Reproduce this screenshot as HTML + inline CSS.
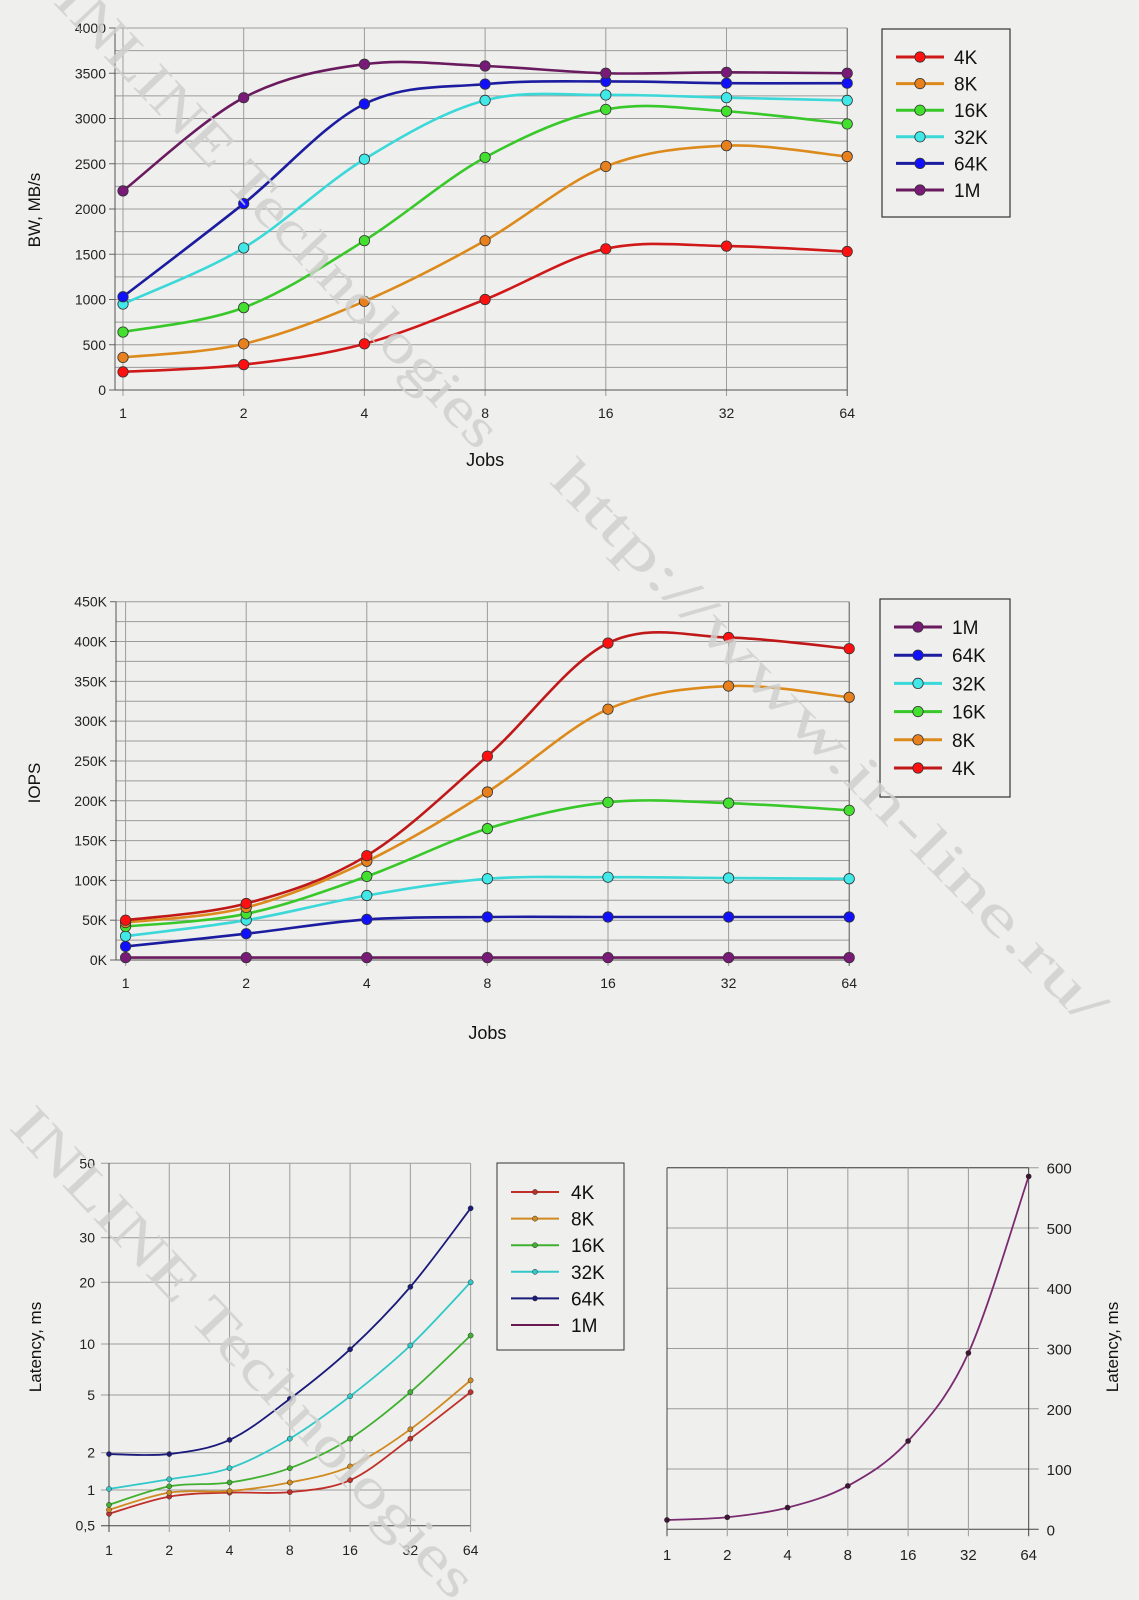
<!DOCTYPE html>
<html><head><meta charset="utf-8"><style>
html,body{margin:0;padding:0;background:#efefed;}
svg{display:block;font-family:"Liberation Sans",Arial,sans-serif;}
</style></head><body>
<svg id="s" width="1139" height="1600" viewBox="0 0 1139 1600">
<rect x="0" y="0" width="1139" height="1600" fill="#efefed"/>
<g id="wm" fill="#cfcfcd" font-family="Liberation Serif, serif" font-size="56" opacity="0.85">
<text transform="translate(52,2) rotate(46.6)" textLength="619" lengthAdjust="spacingAndGlyphs">INLINE Technologies</text>
<text transform="translate(548,482) rotate(45.5)" textLength="766" lengthAdjust="spacingAndGlyphs">http://www.in-line.ru/</text>
<text transform="translate(8,1128) rotate(46.8)" textLength="650" lengthAdjust="spacingAndGlyphs">INLINE Technologies</text>
</g>
</svg>
<script>
const jobs = ["1","2","4","8","16","32","64"];
const seriesNames = ["4K","8K","16K","32K","64K","1M"];
// Chart 1: BW MB/s
const bw4K  = [200,280,510,1000,1560,1590,1530];
const bw8K  = [360,510,980,1650,2470,2700,2580];
const bw16K = [640,910,1650,2570,3100,3080,2940];
const bw32K = [950,1570,2550,3200,3260,3230,3200];
const bw64K = [1030,2060,3160,3380,3410,3390,3390];
const bw1M  = [2200,3230,3600,3580,3500,3510,3500];
const bwTicks = [0,500,1000,1500,2000,2500,3000,3500,4000];
// Chart 2: IOPS (K)
const iops4K  = [50,71,131,256,398,405,391];
const iops8K  = [47,66,124,211,315,344,330];
const iops16K = [42,58,105,165,198,197,188];
const iops32K = [30,50,81,102,104,103,102];
const iops64K = [17,33,51,54,54,54,54];
const iops1M  = [3,3,3,3,3,3,3];
const iopsTicks = [0,50,100,150,200,250,300,350,400,450];
// Chart 3 left: latency ms
const lat4K  = [0.63,0.88,0.95,0.96,1.2,2.5,5.2];
const lat8K  = [0.68,0.95,0.98,1.15,1.55,2.9,6.1];
const lat16K = [0.75,1.07,1.15,1.5,2.5,5.2,11];
const lat32K = [1.02,1.22,1.5,2.5,4.9,9.8,20];
const lat64K = [1.95,1.95,2.45,4.7,9.3,19,36.7];
const latTicks = [0.5,1,2,5,10,20,30,50];
const latTickLabels = ["0,5","1","2","5","10","20","30","50"];
// Chart 3 right: 1M latency ms
const lat1M = [15.5,20,36,72,146.5,292.5,585.6];
const lat1MTicks = [0,100,200,300,400,500,600];

const NS="http://www.w3.org/2000/svg";
const svg=document.getElementById('s');
function el(tag,attrs,parent){const e=document.createElementNS(NS,tag);for(const k in attrs)e.setAttribute(k,attrs[k]);(parent||svg).appendChild(e);return e;}
function txt(x,y,s,attrs,parent){const t=el('text',Object.assign({x:x,y:y},attrs),parent);t.textContent=s;return t;}
function smooth(pts){let d='M'+pts[0][0]+','+pts[0][1];for(let i=0;i<pts.length-1;i++){const p0=pts[Math.max(0,i-1)],p1=pts[i],p2=pts[i+1],p3=pts[Math.min(pts.length-1,i+2)];const c1x=p1[0]+(p2[0]-p0[0])/6,c1y=p1[1]+(p2[1]-p0[1])/6,c2x=p2[0]-(p3[0]-p1[0])/6,c2y=p2[1]-(p3[1]-p1[1])/6;d+=' C'+c1x+','+c1y+' '+c2x+','+c2y+' '+p2[0]+','+p2[1];}return d;}
const GRID="#9c9c9c";

function bigChart(cfg){
  const g=el('g',{});
  
  
  const X=i=>cfg.x0+i*cfg.dx;
  const Y=v=>cfg.yb-(v-cfg.vmin)/(cfg.vmax-cfg.vmin)*(cfg.yb-cfg.yt);
  for(let v=cfg.vmin;v<=cfg.vmax;v+=cfg.minor){el('line',{x1:cfg.left,x2:X(6),y1:Y(v),y2:Y(v),stroke:GRID,'stroke-width':1},g);}
  cfg.ticks.forEach(v=>{el('line',{x1:cfg.left-6,x2:cfg.left,y1:Y(v),y2:Y(v),stroke:'#666'},g);
    const t=txt(cfg.left-9,Y(v)+5,cfg.fmt(v),{'text-anchor':'end','font-size':14,fill:'#222'},g);
    });
  jobs.forEach((j,i)=>{el('line',{x1:X(i),x2:X(i),y1:cfg.yt,y2:cfg.yb+6,stroke:i==6?'#555':GRID},g);
    const t=txt(X(i),cfg.yb+28,j,{'text-anchor':'middle','font-size':14,fill:'#222'},g);
    });
  el('line',{x1:cfg.left,x2:cfg.left,y1:cfg.yt,y2:cfg.yb,stroke:'#555'},g);
  el('line',{x1:cfg.left,x2:X(6),y1:cfg.yb,y2:cfg.yb,stroke:'#555'},g);
  const yt=txt(0,0,cfg.ytitle,{'font-size':17,fill:'#111','text-anchor':'middle',transform:'translate('+cfg.ytx+','+cfg.yty+') rotate(-90)'},g);
  
  const xt=txt(X(3),cfg.jy,'Jobs',{'font-size':18,fill:'#111','text-anchor':'middle'},g);
  
  cfg.order.forEach(k=>{const s=cfg.series[k];const pts=s.data.map((v,i)=>[X(i),Y(v)]);
    const p=el('path',{d:smooth(pts),fill:'none',stroke:s.line,'stroke-width':2.6},g);
    
    pts.forEach(pt=>{const c=el('circle',{cx:pt[0],cy:pt[1],r:5.2,fill:s.dot,stroke:'#333','stroke-width':0.8},g);
      });});
  const lg=el('g',{},g);
  el('rect',{x:cfg.lx,y:cfg.ly,width:cfg.lw,height:cfg.lh,fill:'#efefed',stroke:'#333','stroke-width':1.2},lg);
  cfg.legendOrder.forEach((k,i)=>{const s=cfg.series[k];const y=cfg.lrow0+i*cfg.lrowd;
    const e=el('g',{},lg);
    el('line',{x1:cfg.lx+14,x2:cfg.lx+62,y1:y,y2:y,stroke:s.line,'stroke-width':3},e);
    el('circle',{cx:cfg.lx+38,cy:y,r:5.2,fill:s.dot,stroke:'#333','stroke-width':0.8},e);
    txt(cfg.lx+72,y+7,s.label,{'font-size':19,fill:'#111'},e);});
}
const bwSeries=[
 {label:'4K',data:bw4K,line:'#d01818',dot:'#ff1010'},
 {label:'8K',data:bw8K,line:'#dc8a1c',dot:'#e8801e'},
 {label:'16K',data:bw16K,line:'#38c82a',dot:'#44e030'},
 {label:'32K',data:bw32K,line:'#3ad8d8',dot:'#40e8e8'},
 {label:'64K',data:bw64K,line:'#1c1ca0',dot:'#1010ff'},
 {label:'1M',data:bw1M,line:'#6a1a5e',dot:'#7a1a78'}];
bigChart({name:'bw-chart',x0:123,dx:120.7,left:115,yt:28,yb:390,vmin:0,vmax:4000,minor:250,ticks:bwTicks,fmt:v=>String(v),
 ytitle:'BW, MB/s',ytx:40,yty:210,jy:466,series:bwSeries,order:[0,1,2,3,4,5],legendOrder:[0,1,2,3,4,5],
 lx:882,ly:29,lw:128,lh:188,lrow0:57,lrowd:26.6});
const iopsSeries=[
 {label:'4K',data:iops4K,line:'#c01818',dot:'#ff1010'},
 {label:'8K',data:iops8K,line:'#dc8a1c',dot:'#e8801e'},
 {label:'16K',data:iops16K,line:'#38c82a',dot:'#44e030'},
 {label:'32K',data:iops32K,line:'#3ad8d8',dot:'#40e8e8'},
 {label:'64K',data:iops64K,line:'#1c1ca0',dot:'#1010ff'},
 {label:'1M',data:iops1M,line:'#6a1a5e',dot:'#7a1a78'}];
bigChart({name:'iops-chart',x0:125.6,dx:120.6,left:116,yt:601.7,yb:960,vmin:0,vmax:450,minor:25,ticks:iopsTicks,fmt:v=>v+'K',
 ytitle:'IOPS',ytx:40,yty:783,jy:1039,series:iopsSeries,order:[5,4,3,2,1,0],legendOrder:[5,4,3,2,1,0],
 lx:880,ly:599,lw:130,lh:198,lrow0:627,lrowd:28.2});

(function(){
  const g=el('g',{});
  const x0=109,dx=60.27;const X=i=>x0+i*dx;
  const tickY=[1525.7,1490,1452.7,1395,1344,1282.3,1237.7,1163.3];
  const Y=v=>{for(let i=0;i<latTicks.length-1;i++){if(v<=latTicks[i+1]||i==latTicks.length-2){const f=(Math.log(v)-Math.log(latTicks[i]))/(Math.log(latTicks[i+1])-Math.log(latTicks[i]));return tickY[i]+f*(tickY[i+1]-tickY[i]);}}};
  latTicks.forEach((v,i)=>{const y=Y(v);el('line',{x1:x0-8,x2:X(6),y1:y,y2:y,stroke:i==0?'#444':GRID},g);
    const t=txt(x0-14,y+5,latTickLabels[i],{'text-anchor':'end','font-size':14,fill:'#222'},g);
    });
  jobs.forEach((j,i)=>{el('line',{x1:X(i),x2:X(i),y1:1163.3,y2:1532,stroke:i==0?'#444':GRID},g);
    const t=txt(X(i),1555,j,{'text-anchor':'middle','font-size':14,fill:'#222'},g);
    });
  const yt=txt(0,0,'Latency, ms',{'font-size':17,fill:'#111','text-anchor':'middle',transform:'translate(41,1347) rotate(-90)'},g);
  
  const ls=[{label:'4K',data:lat4K,c:'#c0302a'},{label:'8K',data:lat8K,c:'#d08a20'},{label:'16K',data:lat16K,c:'#40b030'},
    {label:'32K',data:lat32K,c:'#30c8c8'},{label:'64K',data:lat64K,c:'#1a1a7a'}];
  ls.forEach(s=>{const pts=s.data.map((v,i)=>[X(i),Y(v)]);
    const p=el('path',{d:smooth(pts),fill:'none',stroke:s.c,'stroke-width':1.8},g);
    
    pts.forEach(pt=>{const c=el('circle',{cx:pt[0],cy:pt[1],r:2.6,fill:s.c,stroke:'#333','stroke-width':0.5},g);
      });});
  const lg=el('g',{},g);
  el('rect',{x:497,y:1163,width:127,height:187,fill:'#efefed',stroke:'#333','stroke-width':1},lg);
  const leg=ls.concat([{label:'1M',c:'#6a1a50',nodot:true}]);
  leg.forEach((s,i)=>{const y=1192+i*26.6;const e=el('g',{},lg);
    
    el('line',{x1:511,x2:559,y1:y,y2:y,stroke:s.c,'stroke-width':2},e);
    if(!s.nodot)el('circle',{cx:535,cy:y,r:2.6,fill:s.c,stroke:'#333','stroke-width':0.5},e);
    txt(571,y+7,s.label,{'font-size':19,fill:'#111'},e);});
})();

(function(){
  const g=el('g',{});
  const x0=667,dx=60.28;const X=i=>x0+i*dx;
  const yt=1167.7,yb=1529.3;const Y=v=>yb-v/600*(yb-yt);
  lat1MTicks.forEach(v=>{const y=Y(v);el('line',{x1:x0,x2:X(6)+10,y1:y,y2:y,stroke:(v==0)?'#444':GRID},g);
    const t=txt(X(6)+18,y+6,String(v),{'font-size':15,fill:'#222'},g);
    });
  el('line',{x1:x0,x2:X(6),y1:yt,y2:yt,stroke:'#444'},g);
  jobs.forEach((j,i)=>{el('line',{x1:X(i),x2:X(i),y1:yt,y2:yb+7,stroke:(i==0||i==6)?'#444':GRID},g);
    const t=txt(X(i),1560,j,{'text-anchor':'middle','font-size':15,fill:'#222'},g);
    });
  const tt=txt(0,0,'Latency, ms',{'font-size':17,fill:'#111','text-anchor':'middle',transform:'translate(1118,1347) rotate(-90)'},g);
  
  const pts=lat1M.map((v,i)=>[X(i),Y(v)]);
  const p=el('path',{d:smooth(pts),fill:'none',stroke:'#7a2a70','stroke-width':1.8},g);
  
  pts.forEach(pt=>{const c=el('circle',{cx:pt[0],cy:pt[1],r:2.8,fill:'#3a1a30'},g);
    });
})();
svg.appendChild(document.getElementById('wm'));
</script>
</body></html>
